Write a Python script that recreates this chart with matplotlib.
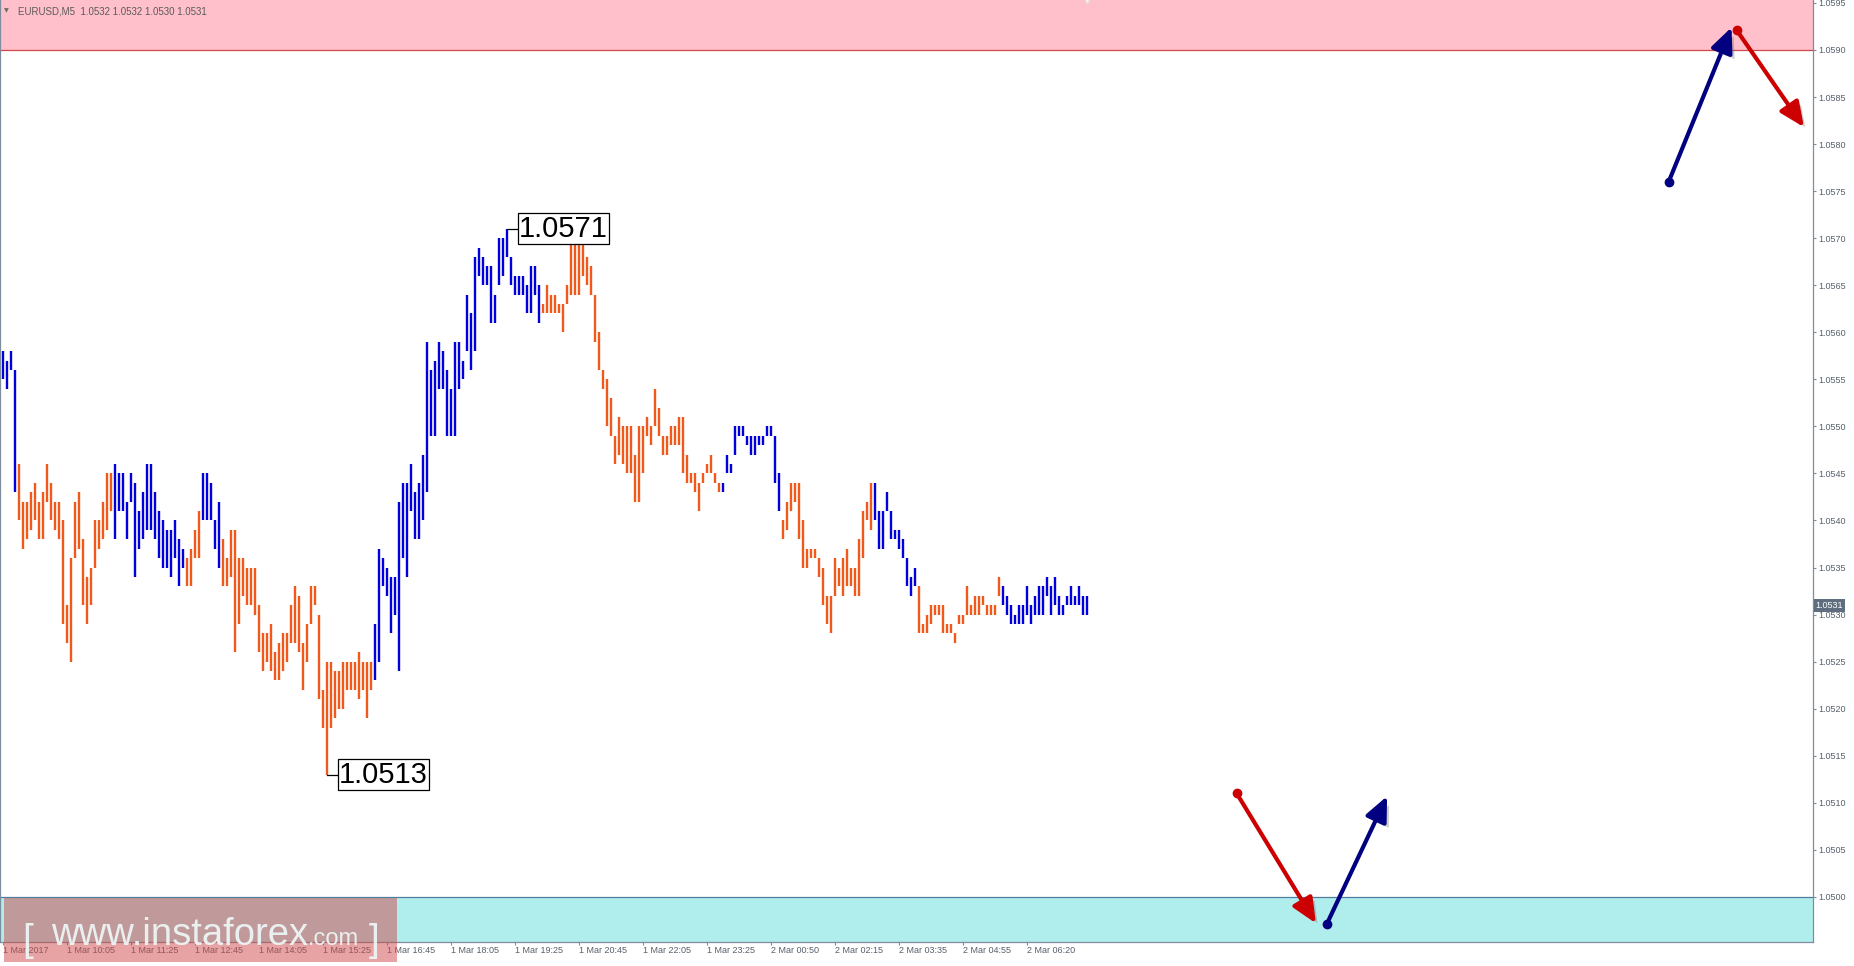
import numpy as np
import matplotlib
matplotlib.use('Agg')
import matplotlib.pyplot as plt
import matplotlib.patheffects as pe
from matplotlib.patches import Rectangle, ArrowStyle
from matplotlib.ticker import FormatStrFormatter
from matplotlib.transforms import blended_transform_factory

# EURUSD M5, 1 Mar 2017 08:45 .. 2 Mar 2017 07:20
symbol_text = 'EURUSD,M5  1.0532 1.0532 1.0530 1.0531'
last_price = 1.0531

highs = [
    1.0558, 1.0557, 1.0558, 1.0556, 1.0546, 1.0542, 1.0542, 1.0543, 1.0544, 1.0542,
    1.0543, 1.0546, 1.0544, 1.0542, 1.0542, 1.0540, 1.0531, 1.0536, 1.0542, 1.0543,
    1.0538, 1.0534, 1.0535, 1.0540, 1.0540, 1.0542, 1.0545, 1.0545, 1.0546, 1.0545,
    1.0545, 1.0542, 1.0545, 1.0544, 1.0541, 1.0543, 1.0546, 1.0546, 1.0543, 1.0541,
    1.0540, 1.0539, 1.0539, 1.0540, 1.0538, 1.0537, 1.0536, 1.0537, 1.0539, 1.0541,
    1.0545, 1.0545, 1.0544, 1.0540, 1.0542, 1.0538, 1.0536, 1.0539, 1.0539, 1.0536,
    1.0536, 1.0535, 1.0535, 1.0535, 1.0531, 1.0528, 1.0528, 1.0529, 1.0526, 1.0527,
    1.0528, 1.0528, 1.0531, 1.0533, 1.0532, 1.0527, 1.0529, 1.0533, 1.0533, 1.0530,
    1.0522, 1.0525, 1.0525, 1.0524, 1.0524, 1.0525, 1.0525, 1.0525, 1.0525, 1.0526,
    1.0525, 1.0525, 1.0525, 1.0529, 1.0537, 1.0536, 1.0535, 1.0534, 1.0534, 1.0542,
    1.0544, 1.0544, 1.0546, 1.0543, 1.0544, 1.0547, 1.0559, 1.0556, 1.0557, 1.0559,
    1.0558, 1.0556, 1.0554, 1.0559, 1.0559, 1.0557, 1.0564, 1.0562, 1.0568, 1.0569,
    1.0568, 1.0567, 1.0567, 1.0564, 1.0570, 1.0570, 1.0571, 1.0568, 1.0566, 1.0566,
    1.0566, 1.0565, 1.0567, 1.0567, 1.0565, 1.0563, 1.0565, 1.0564, 1.0564, 1.0563,
    1.0563, 1.0565, 1.0570, 1.0570, 1.0570, 1.0570, 1.0568, 1.0567, 1.0564, 1.0560,
    1.0556, 1.0555, 1.0553, 1.0549, 1.0551, 1.0550, 1.0550, 1.0550, 1.0547, 1.0550,
    1.0550, 1.0551, 1.0550, 1.0554, 1.0552, 1.0549, 1.0549, 1.0550, 1.0550, 1.0551,
    1.0551, 1.0547, 1.0545, 1.0545, 1.0544, 1.0545, 1.0546, 1.0547, 1.0545, 1.0544,
    1.0544, 1.0547, 1.0546, 1.0550, 1.0550, 1.0550, 1.0549, 1.0549, 1.0549, 1.0549,
    1.0549, 1.0550, 1.0550, 1.0549, 1.0545, 1.0540, 1.0542, 1.0544, 1.0544, 1.0544,
    1.0540, 1.0537, 1.0537, 1.0537, 1.0536, 1.0535, 1.0532, 1.0532, 1.0536, 1.0535,
    1.0536, 1.0537, 1.0535, 1.0535, 1.0538, 1.0541, 1.0542, 1.0544, 1.0544, 1.0541,
    1.0541, 1.0543, 1.0541, 1.0539, 1.0539, 1.0538, 1.0536, 1.0534, 1.0535, 1.0533,
    1.0529, 1.0530, 1.0531, 1.0531, 1.0531, 1.0531, 1.0529, 1.0529, 1.0528, 1.0530,
    1.0530, 1.0533, 1.0531, 1.0532, 1.0532, 1.0532, 1.0531, 1.0531, 1.0531, 1.0534,
    1.0533, 1.0532, 1.0531, 1.0530, 1.0531, 1.0531, 1.0533, 1.0531, 1.0532, 1.0533,
    1.0533, 1.0534, 1.0533, 1.0534, 1.0532, 1.0531, 1.0532, 1.0533, 1.0532, 1.0533,
    1.0532, 1.0532,
]

lows = [
    1.0555, 1.0554, 1.0556, 1.0543, 1.0540, 1.0537, 1.0538, 1.0539, 1.0540, 1.0538,
    1.0538, 1.0542, 1.0540, 1.0539, 1.0538, 1.0529, 1.0527, 1.0525, 1.0536, 1.0537,
    1.0531, 1.0529, 1.0531, 1.0535, 1.0537, 1.0538, 1.0539, 1.0541, 1.0538, 1.0541,
    1.0541, 1.0538, 1.0542, 1.0534, 1.0537, 1.0538, 1.0539, 1.0539, 1.0538, 1.0536,
    1.0535, 1.0535, 1.0534, 1.0536, 1.0533, 1.0535, 1.0533, 1.0533, 1.0536, 1.0536,
    1.0540, 1.0540, 1.0540, 1.0537, 1.0535, 1.0533, 1.0533, 1.0534, 1.0526, 1.0529,
    1.0532, 1.0531, 1.0531, 1.0530, 1.0526, 1.0524, 1.0525, 1.0524, 1.0523, 1.0523,
    1.0524, 1.0525, 1.0527, 1.0527, 1.0526, 1.0522, 1.0525, 1.0529, 1.0531, 1.0521,
    1.0518, 1.0513, 1.0518, 1.0519, 1.0520, 1.0520, 1.0522, 1.0522, 1.0522, 1.0521,
    1.0522, 1.0519, 1.0522, 1.0523, 1.0525, 1.0533, 1.0532, 1.0528, 1.0530, 1.0524,
    1.0536, 1.0534, 1.0541, 1.0538, 1.0538, 1.0540, 1.0543, 1.0549, 1.0549, 1.0554,
    1.0554, 1.0549, 1.0549, 1.0549, 1.0554, 1.0555, 1.0558, 1.0556, 1.0558, 1.0566,
    1.0565, 1.0565, 1.0561, 1.0561, 1.0565, 1.0566, 1.0568, 1.0565, 1.0564, 1.0564,
    1.0564, 1.0562, 1.0562, 1.0564, 1.0561, 1.0562, 1.0562, 1.0562, 1.0562, 1.0562,
    1.0560, 1.0563, 1.0564, 1.0564, 1.0564, 1.0566, 1.0565, 1.0564, 1.0559, 1.0556,
    1.0554, 1.0550, 1.0549, 1.0546, 1.0547, 1.0546, 1.0545, 1.0545, 1.0542, 1.0542,
    1.0545, 1.0549, 1.0548, 1.0550, 1.0549, 1.0547, 1.0547, 1.0548, 1.0548, 1.0548,
    1.0545, 1.0544, 1.0544, 1.0543, 1.0541, 1.0544, 1.0545, 1.0545, 1.0544, 1.0543,
    1.0543, 1.0545, 1.0545, 1.0547, 1.0549, 1.0549, 1.0548, 1.0547, 1.0547, 1.0548,
    1.0548, 1.0549, 1.0549, 1.0544, 1.0541, 1.0538, 1.0539, 1.0541, 1.0542, 1.0538,
    1.0535, 1.0535, 1.0536, 1.0536, 1.0534, 1.0531, 1.0529, 1.0528, 1.0532, 1.0533,
    1.0532, 1.0533, 1.0533, 1.0532, 1.0532, 1.0536, 1.0540, 1.0539, 1.0540, 1.0537,
    1.0537, 1.0541, 1.0538, 1.0538, 1.0537, 1.0536, 1.0533, 1.0532, 1.0533, 1.0528,
    1.0528, 1.0528, 1.0529, 1.0530, 1.0530, 1.0528, 1.0528, 1.0528, 1.0527, 1.0529,
    1.0529, 1.0530, 1.0530, 1.0530, 1.0530, 1.0531, 1.0530, 1.0530, 1.0530, 1.0532,
    1.0531, 1.0530, 1.0529, 1.0529, 1.0529, 1.0529, 1.0530, 1.0529, 1.0530, 1.0530,
    1.0530, 1.0532, 1.0530, 1.0531, 1.0530, 1.0530, 1.0531, 1.0531, 1.0531, 1.0531,
    1.0530, 1.0530,
]

# U = bull bar (blue), D = bear bar (orange), as runs of consecutive bars
bar_runs = [('U', 4), ('D', 24), ('U', 18), ('D', 4), ('U', 5), ('D', 38), ('U', 42),
            ('D', 45), ('U', 15), ('D', 23), ('U', 11), ('D', 21), ('U', 22)]

time_labels = ['1 Mar 2017', '1 Mar 10:05', '1 Mar 11:25', '1 Mar 12:45', '1 Mar 14:05',
               '1 Mar 15:25', '1 Mar 16:45', '1 Mar 18:05', '1 Mar 19:25', '1 Mar 20:45',
               '1 Mar 22:05', '1 Mar 23:25', '2 Mar 00:50', '2 Mar 02:15', '2 Mar 03:35',
               '2 Mar 04:55', '2 Mar 06:20']
bars_per_label = 16

resistance_level = 1.0590
support_level = 1.0500

# forecast arrows: start bar, start price, end bar, end price
arrow_x0 = [417.5, 434.5, 309.5, 332.0]
arrow_y0 = [1.05760, 1.05921, 1.05110, 1.04971]
arrow_x1 = [433.2, 451.3, 329.3, 347.1]
arrow_y1 = [1.05924, 1.05818, 1.04972, 1.05107]
arrow_up = [True, False, False, True]

W, H = 1854, 966
UP_COLOR = '#0000dc'
DOWN_COLOR = '#f0591b'
AXIS_COLOR = '#7d8d9d'
LABEL_COLOR = '#56606c'


def draw_bars(ax):
    x = np.arange(1, len(highs) + 1)
    dirs = ''.join(c * n for c, n in bar_runs)
    colors = [UP_COLOR if d == 'U' else DOWN_COLOR for d in dirs]
    ax.vlines(x, lows, highs, colors=colors, linewidth=1.7, capstyle='butt', zorder=3)
    return x


def mark_extreme(ax, xb, price, side_pad=2.6):
    ax.plot([xb, xb + side_pad], [price, price], color='black', lw=0.9, zorder=4)
    ax.text(xb + side_pad + 0.5, price, '%.4f' % price, fontsize=21, family='Liberation Sans',
            ha='left', va='center', color='black', zorder=5,
            bbox=dict(boxstyle='square,pad=0.05', fc='white', ec='black', lw=0.9))


def draw_arrows(ax):
    shadow = [pe.SimplePatchShadow(offset=(3, -3), shadow_rgbFace='#707070', alpha=0.35), pe.Normal()]
    style = ArrowStyle('-|>', head_length=1.0, head_width=0.45)
    for x0, y0, x1, y1, up in zip(arrow_x0, arrow_y0, arrow_x1, arrow_y1, arrow_up):
        c = '#000080' if up else '#cc0000'
        ann = ax.annotate('', xy=(x1, y1), xytext=(x0, y0), annotation_clip=False, zorder=6,
                          arrowprops=dict(arrowstyle=style, color=c, lw=3.0, shrinkA=0, shrinkB=0,
                                          mutation_scale=15))
        ann.arrow_patch.set_path_effects(shadow)
        ax.plot([x0], [y0], 'o', color=c, ms=6, zorder=7)


fig = plt.figure(figsize=(W / 100, H / 100), dpi=100, facecolor='white')
ax = fig.add_axes([0, 1 - 942 / H, 1813 / W, 942 / H])

ymin, ymax = 1.049521, 1.059531
ax.set_ylim(ymin, ymax)
ax.set_xlim(0.325, 453.575)

ax.axhspan(resistance_level, ymax, color='#ffc0cb', zorder=0, lw=0)
ax.axhline(resistance_level, color='#d24848', lw=0.9, zorder=1)
ax.axhspan(ymin, support_level, color='#b0eded', zorder=0, lw=0)
ax.axhline(support_level, color='#4f7f9f', lw=0.9, zorder=1)

x = draw_bars(ax)

i_max = int(np.argmax(highs))
i_min = int(np.argmin(lows))
mark_extreme(ax, x[i_max], highs[i_max])
mark_extreme(ax, x[i_min], lows[i_min])

draw_arrows(ax)

# shift marker at the top
ax.plot([x[-1]], [ymax], marker='v', color='white', mec='#e6e6e6', ms=5, clip_on=False, zorder=8)

ax.spines['top'].set_visible(False)
for side in ['left', 'right', 'bottom']:
    ax.spines[side].set_color(AXIS_COLOR)
    ax.spines[side].set_linewidth(0.9)

ax.yaxis.tick_right()
ax.set_yticks(np.arange(support_level, 1.05951, 0.0005))
ax.yaxis.set_major_formatter(FormatStrFormatter('%.4f'))
ax.tick_params(axis='y', direction='out', length=2.5, width=0.8, colors=AXIS_COLOR,
               labelcolor=LABEL_COLOR, labelsize=6.5, pad=1.5)

tick_pos = [1 + bars_per_label * k for k in range(len(time_labels))]
ax.set_xticks(tick_pos)
ax.set_xticklabels(time_labels, ha='left')
ax.tick_params(axis='x', direction='out', length=2.5, width=0.8, colors=AXIS_COLOR,
               labelcolor=LABEL_COLOR, labelsize=6.5, pad=0.5)
for lab in ax.get_xticklabels() + ax.get_yticklabels():
    lab.set_family('Liberation Sans')

# current price box on the price scale
trans = blended_transform_factory(ax.transAxes, ax.transData)
ax.text(1 + 2.5 / 1813, last_price, '%.4f' % last_price, transform=trans, ha='left', va='center',
        fontsize=6.5, family='Liberation Sans', color='white', clip_on=False, zorder=10,
        bbox=dict(boxstyle='square,pad=0.2', fc='#5e6e7e', ec='none'))

# header
fig.text(4 / W, 1 - 10.5 / H, '\u25bc', fontsize=4.5, color='#6a6a6a', va='center')
fig.text(18 / W, 1 - 11 / H, symbol_text, fontsize=7, family='Liberation Sans',
         color='#5a5a5a', va='center')

# watermark
fig.add_artist(Rectangle((4 / W, 1 - 962 / H), 393 / W, 64 / H, transform=fig.transFigure,
                         fc='#d04848', alpha=0.5, ec='none', zorder=20))
wm = dict(color='#eef7f7', alpha=0.92, va='baseline', zorder=21, family='Liberation Sans')
fig.text(22 / W, 1 - 951 / H, '[', fontsize=28, **wm)
t1 = fig.text(51 / W, 1 - 945 / H, 'www.instaforex', fontsize=27.5, **wm)
renderer = fig.canvas.get_renderer()
bb = t1.get_window_extent(renderer)
fig.text(bb.x1 / W, 1 - 945 / H, '.com', fontsize=17, **wm)
fig.text(369 / W, 1 - 951 / H, ']', fontsize=28, **wm)

plt.savefig('out.png', dpi=100)
